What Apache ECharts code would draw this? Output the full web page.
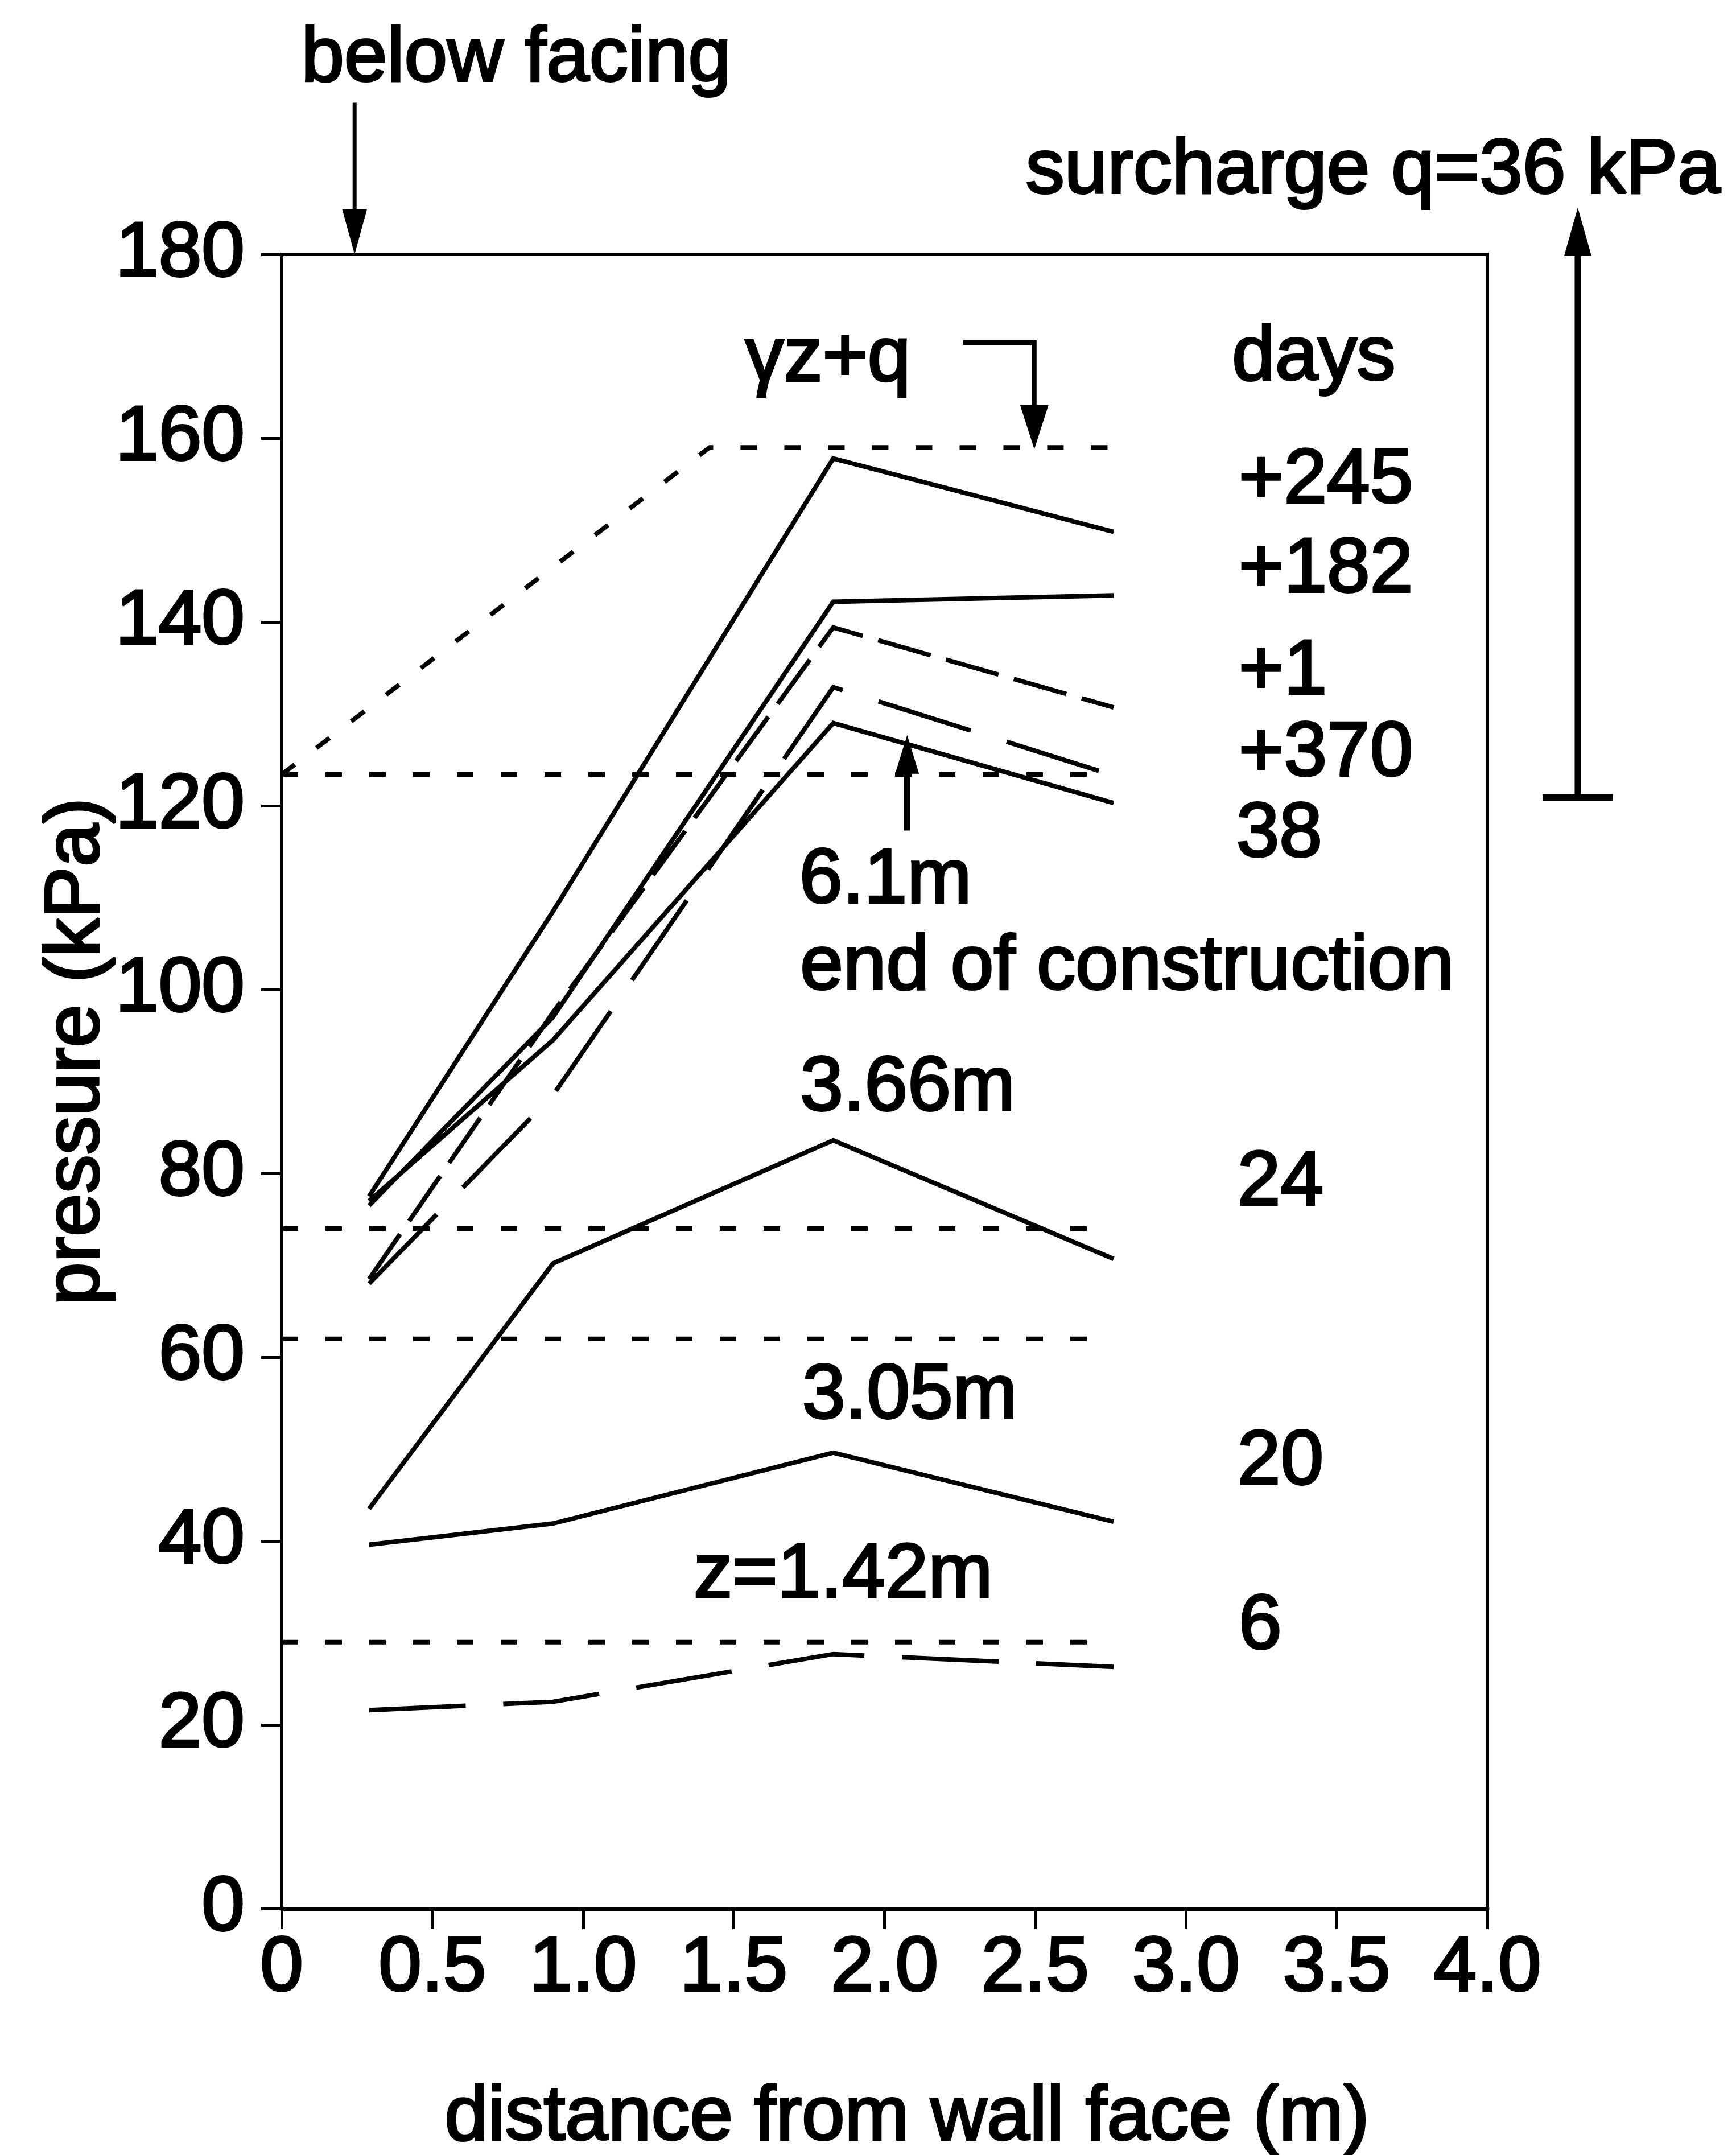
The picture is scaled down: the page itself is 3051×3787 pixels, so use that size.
<!DOCTYPE html>
<html><head><meta charset="utf-8">
<script src="https://cdn.jsdelivr.net/npm/echarts@6/dist/echarts.min.js"></script>
<style>html,body{margin:0;padding:0;background:#fff}#chart{width:3051px;height:3787px}</style>
</head><body><div id="chart"></div>
<script>
// ---- data ----
const distances = [0.29, 0.9, 1.83, 2.76];          // m, pressure-cell positions
const day245 = [77.5, 108.5, 157.8, 149.8];          // 6.1 m, +245 days
const day182 = [76.5, 97.0, 142.2, 142.9];           // 6.1 m, +182 days
const day1   = [68.5, 97.5, 139.4, 130.7];           // 6.1 m, +1 day
const day370 = [68.0, 88.5, 132.9, 123.3];           // 6.1 m, +370 days
const day38  = [77.0, 94.5, 129.0, 120.3];           // 6.1 m, 38 days (end of construction)
const day24  = [43.5, 70.2, 83.6, 70.7];             // 3.66 m, 24 days
const day20  = [39.6, 41.9, 49.6, 42.1];             // 3.05 m, 20 days
const day6   = [21.6, 22.5, 27.7, 26.3];             // 1.42 m, 6 days
const refLevels = [123.4, 74, 62, 29];               // gamma*z reference levels (kPa)
const refEnd = 2.76;
const gammaZq = [[0, 123.4], [1.42, 159], [2.76, 159]];  // gamma*z + q
const xTickLabels = ['0','0.5','1.0','1.5','2.0','2.5','3.0','3.5','4.0'];

const FONT = '"Liberation Sans", Arial, Helvetica, sans-serif';
const FS = 136;
const TB = 4; // text thickening to match the scanned glyph weight
const chart = echarts.init(document.getElementById('chart'), null, {width:3051, height:3787});

const mk = vals => distances.map((x, i) => [x, vals[i]]);
const lineSeries = (name, data, type, width) => ({
  name, type: 'line', data, symbol: 'none', silent: true, animation: false,
  lineStyle: {color: '#000', width: width || 8, type: type || 'solid', cap: 'butt', join: 'miter'}
});
const LONG = [170, 66], MID = [96, 28], SHORT = [29, 48];

const series = [
  lineSeries('+245', mk(day245)),
  lineSeries('+182', mk(day182)),
  lineSeries('+1', mk(day1), MID),
  lineSeries('+370', mk(day370), LONG),
  lineSeries('38', mk(day38)),
  lineSeries('24', mk(day24)),
  lineSeries('20', mk(day20)),
  lineSeries('6', mk(day6), LONG),
  lineSeries('γz+q', gammaZq, SHORT, 8)
].concat(refLevels.map(v => lineSeries('γz ' + v, [[0, v], [refEnd, v]], SHORT, 8)));

const labelStyle = {fontSize: FS, fontFamily: FONT, color: '#000', textBorderColor: '#000', textBorderWidth: TB};

chart.setOption({
  animation: false,
  backgroundColor: '#fff',
  grid: {left: 495, right: 437, top: 447, bottom: 433, show: true, borderColor: '#000', borderWidth: 6, backgroundColor: 'transparent'},
  xAxis: {
    type: 'value', min: 0, max: 4, interval: 0.5,
    axisLine: {show: true, onZero: false, lineStyle: {color: '#000', width: 7}},
    axisTick: {show: true, inside: false, length: 36, lineStyle: {color: '#000', width: 5}},
    splitLine: {show: false},
    axisLabel: Object.assign({show: true, showMinLabel: true, showMaxLabel: true, hideOverlap: false, margin: 38,
      formatter: v => xTickLabels[Math.round(v / 0.5)]}, labelStyle)
  },
  yAxis: {
    type: 'value', min: 0, max: 180, interval: 20,
    axisLine: {show: true, onZero: false, lineStyle: {color: '#000', width: 6}},
    axisTick: {show: true, inside: false, length: 36, lineStyle: {color: '#000', width: 5}},
    splitLine: {show: false},
    axisLabel: Object.assign({show: true, showMinLabel: true, showMaxLabel: true, margin: 65}, labelStyle)
  },
  series
});

// ---- annotations (data coordinates) ----
const notes = [
  ['below facing', 0.778, 201.2, 'center'],
  ['surcharge q=36 kPa', 3.621, 189.0, 'center'],
  ['γz+q', 1.812, 168.6, 'center'],
  ['days', 3.153, 168.7, 'left'],
  ['+245', 3.175, 155.3, 'left'],
  ['+182', 3.175, 145.6, 'left'],
  ['+1', 3.175, 134.5, 'left'],
  ['+370', 3.175, 125.6, 'left'],
  ['38', 3.167, 116.8, 'left'],
  ['6.1m', 1.718, 111.8, 'left'],
  ['end of construction', 1.72, 102.4, 'left'],
  ['3.66m', 1.72, 89.2, 'left'],
  ['24', 3.171, 78.9, 'left'],
  ['3.05m', 1.727, 55.7, 'left'],
  ['20', 3.171, 48.5, 'left'],
  ['z=1.42m', 1.367, 36.2, 'left'],
  ['6', 3.175, 30.6, 'left']
];
const P = (x, y) => chart.convertToPixel({gridIndex: 0}, [x, y]);
const g = [];
const txtStyle = (t, a) => ({text: t, fontSize: FS, fontFamily: FONT, fill: '#000', stroke: '#000', lineWidth: TB, align: a, verticalAlign: 'middle'});
notes.forEach(([t, x, y, a]) => {
  const p = P(x, y);
  g.push({type: 'text', x: p[0], y: p[1], silent: true, style: txtStyle(t, a)});
});
function head(tip, dir, w, L) { // dir: 1 = pointing down, -1 = pointing up
  const [x, y] = tip;
  return {type: 'polygon', silent: true, shape: {points: [[x - w / 2, y - dir * L], [x + w / 2, y - dir * L], [x, y]]}, style: {fill: '#000'}};
}
function shaft(pts, w) {
  return {type: 'polyline', silent: true, shape: {points: pts}, style: {stroke: '#000', lineWidth: w, fill: null, lineCap: 'butt', lineJoin: 'miter'}};
}
// below facing arrow
{
  const a = P(0.242, 196.5), t = P(0.242, 180);
  g.push(shaft([a, [t[0], t[1] - 60]], 7));
  g.push(head(t, 1, 44, 80));
}
// surcharge arrow
{
  const b = P(4.30, 120.9), t = P(4.30, 185.1);
  g.push(shaft([b, [t[0], t[1] + 60]], 11));
  g.push(head(t, -1, 48, 85));
  g.push(shaft([[b[0] - 62, b[1]], [b[0] + 62, b[1]]], 12));
}
// gamma z + q arrow
{
  const a = P(2.261, 170.4), c = P(2.497, 170.4), t = P(2.497, 158.8);
  g.push(shaft([a, c, [t[0], t[1] - 50]], 8));
  g.push(head(t, 1, 50, 78));
}
// 6.1 m arrow
{
  const b = P(2.075, 117.3), t = P(2.075, 127.7);
  g.push(shaft([b, [t[0], t[1] + 40]], 11));
  g.push(head(t, -1, 42, 68));
}
// axis titles
g.push({type: 'text', x: 135, y: 1848, rotation: Math.PI / 2, silent: true, style: txtStyle('pressure (kPa)', 'center')});
g.push({type: 'text', x: 1594, y: 3722, silent: true, style: txtStyle('distance from wall face (m)', 'center')});
chart.setOption({graphic: g});
</script>
</body></html>
